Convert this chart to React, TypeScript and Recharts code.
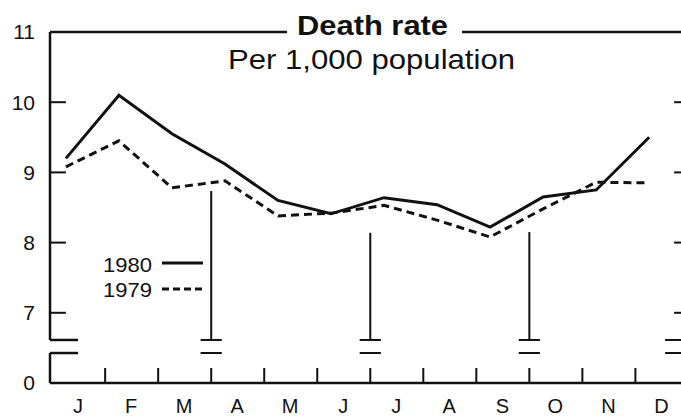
import React from 'react';
import { LineChart, Line, XAxis, YAxis, ReferenceLine, Legend } from 'recharts';

const months = ['J', 'F', 'M', 'A', 'M', 'J', 'J', 'A', 'S', 'O', 'N', 'D'];
const rate1980 = [9.2, 10.1, 9.55, 9.12, 8.6, 8.41, 8.64, 8.54, 8.22, 8.65, 8.75, 9.5];
const rate1979 = [9.08, 9.45, 8.78, 8.88, 8.38, 8.42, 8.53, 8.32, 8.08, 8.48, 8.86, 8.85];
const seriesNames = ['1980', '1979'];
const yTicks = [6, 7, 8, 9, 10, 11];
const yTickLabels = ['0', '7', '8', '9', '10', '11'];
const breakMarkerMonths = [2.74, 5.74, 8.74];
const breakMarkerTops = [8.735, 8.14, 8.15];

const FONT = '"Liberation Sans", Arial, Helvetica, sans-serif';
const INK = '#111';
const X_MIN = -0.3;
const X_MAX = 11.6;
const LABEL_OFF = 0.23;
const BOUND_OFF = 0.74;
const BREAK_HI = 6.613;
const BREAK_LO = 6.427;

const data = months.map((m, i) => ({ m: i, label: m, y1980: rate1980[i], y1979: rate1979[i] }));

const MonthTick = (props: any) => {
  const { x, y, payload } = props;
  const idx = Math.round(payload.value - LABEL_OFF);
  return (
    <text x={x} y={y + 30} textAnchor="middle" fontSize={20} fontFamily={FONT} fill={INK}>
      {months[idx]}
    </text>
  );
};

const seg = (x1: number, y1: number, x2: number, y2: number, key: string, w = 2.5) => (
  <ReferenceLine
    key={key}
    segment={[{ x: x1, y: y1 }, { x: x2, y: y2 }]}
    stroke={INK}
    strokeWidth={w}
    ifOverflow="visible"
  />
);

const LegendContent = (props: any) => {
  const payload = [...(props.payload || [])].sort(
    (a: any, b: any) => seriesNames.indexOf(String(a.value)) - seriesNames.indexOf(String(b.value))
  );
  return (
    <svg width={110} height={54}>
      {payload.map((it: any, i: number) => (
        <g key={i}>
          <text x={3} y={22 + 25 * i} fontSize={21} fontFamily={FONT} fill={INK} textLength={49} lengthAdjust="spacingAndGlyphs">
            {it.value}
          </text>
          <line
            x1={62}
            x2={103}
            y1={13 + 26 * i}
            y2={13 + 26 * i}
            stroke={INK}
            strokeWidth={3}
            strokeDasharray={String(it.value) === '1979' ? '7 4' : undefined}
          />
        </g>
      ))}
    </svg>
  );
};

export default function App() {
  const lines: any[] = [];
  lines.push(seg(X_MIN, 11, X_MIN, BREAK_HI, 'lax-up'));
  lines.push(seg(X_MIN, BREAK_HI, LABEL_OFF, BREAK_HI, 'lbrk-hi'));
  lines.push(seg(X_MIN, BREAK_LO, LABEL_OFF, BREAK_LO, 'lbrk-lo'));
  lines.push(seg(X_MIN, BREAK_LO, X_MIN, 6, 'lax-lo'));
  lines.push(seg(X_MIN, 6, X_MAX, 6, 'bottom'));
  lines.push(seg(X_MIN, 11, 4.17, 11, 'top-l', 2.5));
  lines.push(seg(7.47, 11, X_MAX, 11, 'top-r', 2.5));
  [7, 8, 9, 10].forEach((v) => {
    lines.push(seg(X_MIN, v, 0, v, 'lt' + v, 2));
    lines.push(seg(11.47, v, X_MAX, v, 'rt' + v, 2));
  });
  lines.push(seg(11.3, BREAK_HI, X_MAX, BREAK_HI, 'rbrk-hi', 2));
  lines.push(seg(11.3, BREAK_LO, X_MAX, BREAK_LO, 'rbrk-lo', 2));
  for (let i = 0; i < 11; i++) {
    lines.push(seg(i + BOUND_OFF, 6, i + BOUND_OFF, 6.214, 'mt' + i, 2));
  }
  breakMarkerMonths.forEach((b, i) => {
    lines.push(seg(b, breakMarkerTops[i], b, BREAK_HI, 'bm' + i, 2));
    lines.push(seg(b - 0.2, BREAK_HI, b + 0.2, BREAK_HI, 'bh' + i, 2));
    lines.push(seg(b - 0.2, BREAK_LO, b + 0.2, BREAK_LO, 'bl' + i, 2));
  });

  return (
    <div style={{ position: 'absolute', left: 0, top: 0, width: 681, height: 416, background: '#fff' }}>
      <LineChart width={681} height={416} data={data} margin={{ top: 32, right: 0, left: 0, bottom: 0 }}>
        <XAxis
          dataKey="m"
          type="number"
          domain={[X_MIN, X_MAX]}
          ticks={months.map((_, i) => i + LABEL_OFF)}
          tick={<MonthTick />}
          interval={0}
          axisLine={false}
          tickLine={false}
          tickSize={0}
          tickMargin={0}
          height={33}
          allowDataOverflow
        />
        <YAxis
          type="number"
          domain={[6, 11]}
          ticks={yTicks}
          interval={0}
          width={50}
          axisLine={false}
          tickLine={false}
          tickSize={0}
          tickMargin={15}
          tick={{ fill: INK, fontSize: 21, fontFamily: FONT }}
          tickFormatter={(v: number) => yTickLabels[yTicks.indexOf(v)]}
          allowDataOverflow
        />
        {lines}
        <Legend
          content={<LegendContent />}
          verticalAlign="middle"
          align="center"
          wrapperStyle={{ left: 100, top: 250, width: 110, height: 54 }}
        />
        <Line
          name={seriesNames[0]}
          dataKey="y1980"
          stroke={INK}
          strokeWidth={3}
          dot={false}
          isAnimationActive={false}
        />
        <Line
          name={seriesNames[1]}
          dataKey="y1979"
          stroke={INK}
          strokeWidth={3}
          strokeDasharray="8 5"
          dot={false}
          isAnimationActive={false}
        />
      </LineChart>
      <svg width={681} height={416} style={{ position: 'absolute', left: 0, top: 0, pointerEvents: 'none' }}>
        <text x={372.5} y={35} textAnchor="middle" fontWeight="bold" fontSize={27} fontFamily={FONT} fill={INK} textLength={151} lengthAdjust="spacingAndGlyphs">
          Death rate
        </text>
        <text x={371.5} y={69} textAnchor="middle" fontSize={28} fontFamily={FONT} fill={INK} textLength={287} lengthAdjust="spacingAndGlyphs">
          Per 1,000 population
        </text>
      </svg>
    </div>
  );
}
